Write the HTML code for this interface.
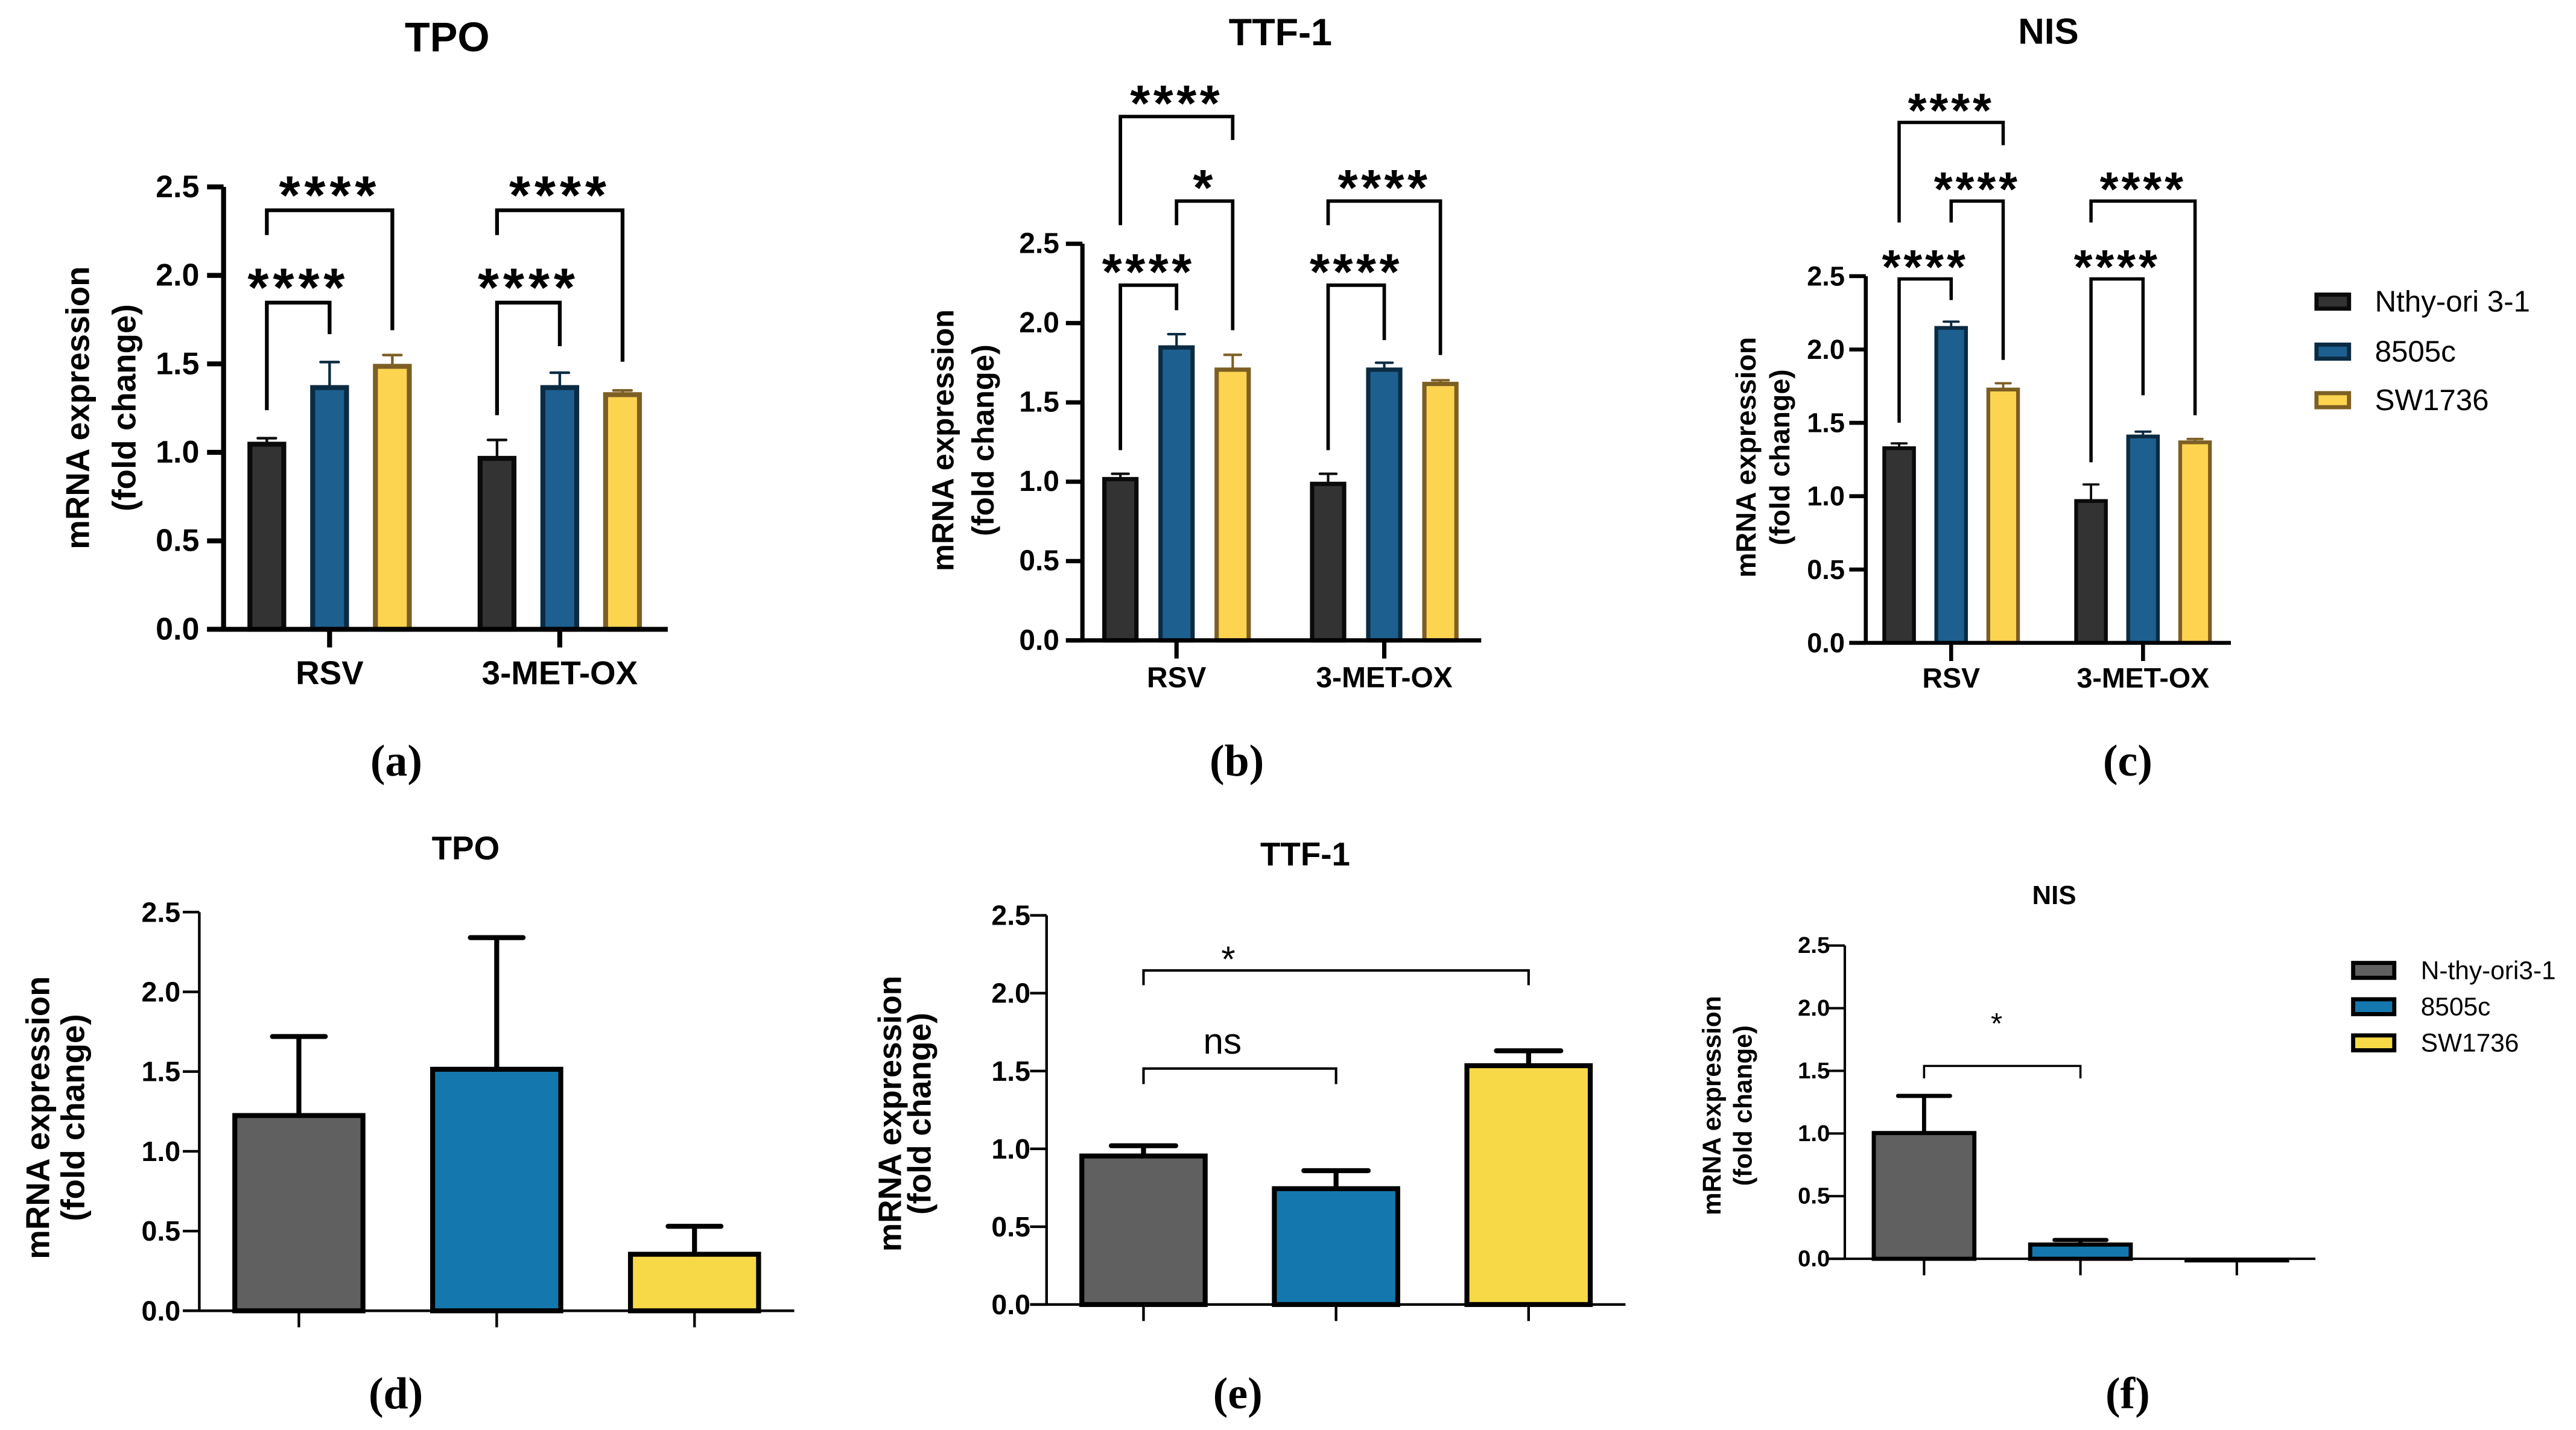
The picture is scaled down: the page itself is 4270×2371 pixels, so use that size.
<!DOCTYPE html>
<html><head><meta charset="utf-8"><style>
html,body{margin:0;padding:0;background:#fff;}
svg{display:block;}
text{font-family:"Liberation Sans",Arial,sans-serif;}
</style></head><body>
<svg id="fig" width="4270" height="2371" viewBox="0 0 1560 866.2" xmlns="http://www.w3.org/2000/svg"></svg>
<script>
// ---------- DATA ----------
const groupCats = ["RSV", "3-MET-OX"];
const seriesNamesTop = ["Nthy-ori 3-1", "8505c", "SW1736"];
const seriesNamesBottom = ["N-thy-ori3-1", "8505c", "SW1736"];
const yTicks = [0, 0.5, 1.0, 1.5, 2.0, 2.5];
const yTickLabels = ["0.0", "0.5", "1.0", "1.5", "2.0", "2.5"];

// (a) TPO
const aNthy = [1.06, 0.98];
const aNthyErr = [0.02, 0.09];
const a8505c = [1.38, 1.38];
const a8505cErr = [0.13, 0.07];
const aSW1736 = [1.50, 1.34];
const aSW1736Err = [0.05, 0.01];
// (b) TTF-1
const bNthy = [1.03, 1.00];
const bNthyErr = [0.02, 0.05];
const b8505c = [1.86, 1.72];
const b8505cErr = [0.07, 0.03];
const bSW1736 = [1.72, 1.63];
const bSW1736Err = [0.08, 0.01];
// (c) NIS
const cNthy = [1.34, 0.98];
const cNthyErr = [0.02, 0.10];
const c8505c = [2.16, 1.42];
const c8505cErr = [0.03, 0.02];
const cSW1736 = [1.74, 1.38];
const cSW1736Err = [0.03, 0.01];
// (d) TPO
const dValues = [1.24, 1.53, 0.37];
const dErrors = [0.48, 0.81, 0.16];
// (e) TTF-1
const eValues = [0.97, 0.76, 1.55];
const eErrors = [0.05, 0.10, 0.08];
// (f) NIS
const fValues = [1.02, 0.13, 0.005];
const fErrors = [0.28, 0.02, 0.0];

// brackets: [group, s1, s2, topValue, leg1Value, leg2Value, label]
const aBrackets = [[0,0,1,1.846,1.238,1.668,"****"],[0,0,2,2.368,2.228,1.69,"****"],[1,0,1,1.846,1.21,1.60,"****"],[1,0,2,2.368,2.228,1.512,"****"]];
const bBrackets = [[0,0,1,2.239,1.199,2.081,"****"],[0,1,2,2.769,2.617,1.955,"*"],[0,0,2,3.302,2.617,3.154,"****"],[1,0,1,2.239,1.199,1.893,"****"],[1,0,2,2.769,2.617,1.799,"****"]];
const cBrackets = [[0,0,1,2.481,1.501,2.337,"****"],[0,1,2,3.012,2.866,1.929,"****"],[0,0,2,3.548,2.866,3.393,"****"],[1,0,1,2.481,1.231,1.688,"****"],[1,0,2,3.012,2.866,1.552,"****"]];
// bottom brackets: [s1, s2, topValue, legValue, label, labelFrac]
const eBrackets = [[0,1,1.516,1.416,"ns",0.41],[0,2,2.146,2.051,"*",0.22]];
const fBrackets = [[0,1,1.539,1.44,"*",0.464]];

// ---------- RENDER ----------
const NS = "http://www.w3.org/2000/svg";
const svg = document.getElementById("fig");
function mk(tag, attrs, parent) {
  const e = document.createElementNS(NS, tag);
  for (const k in attrs) e.setAttribute(k, attrs[k]);
  (parent || svg).appendChild(e);
  return e;
}
function txt(str, attrs, parent) {
  const t = mk("text", attrs, parent);
  t.textContent = str;
  return t;
}
const topFill = ["#333333", "#1d5f8f", "#fdd450"];
const topStroke = ["#0a0a0a", "#0b2b42", "#7d5f24"];
const botFill = ["#606060", "#1478ae", "#f7d947"];

function yS(p, v) { return p.y0 - v * p.k; }

function drawAxes(p, g) {
  const top = yS(p, 2.5);
  const ya = mk("line", {x1:p.ax, y1:top, x2:p.ax, y2:p.y0, stroke:"#000", "stroke-width":p.axisW}, g);
  
  
  const xa = mk("line", {x1:p.ax - 10, y1:p.y0, x2:p.axRight, y2:p.y0, stroke:"#000", "stroke-width":p.axisW}, g);
  
  
  for (let i = 0; i < yTicks.length; i++) {
    const y = yS(p, yTicks[i]);
    const tk = mk("line", {x1:p.ax - 10, y1:y, x2:p.ax, y2:y, stroke:"#000", "stroke-width":p.axisW}, g);
    
    
    const tl = txt(yTickLabels[i], {x:p.ax - p.tickGap, y:y, "text-anchor":"end", "dominant-baseline":"central", "font-size":p.tickFs, "font-weight":"bold"}, g);
    
    
  }
  const t = txt(p.title, {x:p.titleX, y:p.titleY, "text-anchor":"middle", "dominant-baseline":"central", "font-size":p.titleFs, "font-weight":"bold"}, g);
  
  
  const l1 = txt("mRNA expression", {x:0, y:0, "text-anchor":"middle", "dominant-baseline":"central", "font-size":p.ylFs, "font-weight":"bold", transform:"translate(" + p.yl1X + "," + p.ylY + ") rotate(-90)"}, g);
  
  
  const l2 = txt("(fold change)", {x:0, y:0, "text-anchor":"middle", "dominant-baseline":"central", "font-size":p.ylFs, "font-weight":"bold", transform:"translate(" + p.yl2X + "," + p.ylY + ") rotate(-90)"}, g);
  
  
  const pl = txt(p.letter, {x:p.letterX, y:p.letterY, "text-anchor":"middle", "dominant-baseline":"central", "font-size":27, "font-weight":"bold", style:"font-family:'Liberation Serif',serif"}, g);
  
  
}

function drawBar(p, g, cx, w, v, err, fill, stroke, sw, errW, capW) {
  const yT = yS(p, v);
  const r = mk("rect", {x:cx - w/2 + sw/2, y:yT + sw/2, width:Math.max(w - sw, 0.1), height:Math.max(p.y0 - yT - sw/2, 0.1), fill:fill, stroke:stroke, "stroke-width":sw}, g);
  
  
  if (err > 0) {
    const ye = yS(p, v + err);
    const el = mk("path", {d:"M" + cx + "," + (yT + sw/2) + "V" + ye + "M" + (cx - capW/2) + "," + ye + "H" + (cx + capW/2), stroke:stroke, "stroke-width":errW, fill:"none", "stroke-linecap":"round"}, g);
    
    
  }
}

function topPanel(p, series, errs, brackets) {
  const g = mk("g", {});
  
  
  const bx = (gi, s) => p.c0 + gi * p.step + (s - 1) * p.off;
  for (let gi = 0; gi < groupCats.length; gi++) {
    for (let s = 0; s < 3; s++) {
      drawBar(p, g, bx(gi, s), p.bw, series[s][gi], errs[s][gi], topFill[s], topStroke[s], p.sw, p.errW, p.capW);
    }
    const cx = p.c0 + gi * p.step;
    const xt = mk("line", {x1:cx, y1:p.y0, x2:cx, y2:p.y0 + 11, stroke:"#000", "stroke-width":p.axisW}, g);
    
    
    const cl = txt(groupCats[gi], {x:cx, y:p.catY, "text-anchor":"middle", "dominant-baseline":"central", "font-size":p.catFs, "font-weight":"bold"}, g);
    
    
  }
  drawAxes(p, g);
  for (const b of brackets) {
    const x1 = bx(b[0], b[1]), x2 = bx(b[0], b[2]);
    const yt = yS(p, b[3]);
    const br = mk("path", {d:"M" + x1 + "," + yS(p, b[4]) + "V" + yt + "H" + x2 + "V" + yS(p, b[5]), fill:"none", stroke:"#000", "stroke-width":p.brW}, g);
    
    
    const st = txt(b[6], {x:(x1 + x2) / 2, y:yt - p.starOff + 0.58 * p.starFs, "text-anchor":"middle", "font-size":p.starFs, "font-weight":"bold", "letter-spacing":p.starLs}, g);
    
    
  }
  return g;
}

function bottomPanel(p, values, errors, brackets) {
  const g = mk("g", {});
  
  
  const bx = (s) => p.c0 + s * p.step;
  for (let s = 0; s < values.length; s++) {
    drawBar(p, g, bx(s), p.bw, values[s], errors[s], botFill[s], "#000", p.sw, p.errW, p.capW);
    const xt = mk("line", {x1:bx(s), y1:p.y0, x2:bx(s), y2:p.y0 + 10, stroke:"#000", "stroke-width":p.axisW}, g);
    
    
  }
  drawAxes(p, g);
  for (const b of brackets) {
    const x1 = bx(b[0]), x2 = bx(b[1]);
    const yt = yS(p, b[2]), yl = yS(p, b[3]);
    const br = mk("path", {d:"M" + x1 + "," + yl + "V" + yt + "H" + x2 + "V" + yl, fill:"none", stroke:"#000", "stroke-width":p.brW}, g);
    
    
    const lx = x1 + (x2 - x1) * b[5];
    const isStar = b[4] === "*";
    const st = txt(b[4], {x:lx, y:isStar ? yt - p.starOff + 0.58 * p.starFs : yt - p.nsOff, "text-anchor":"middle", "font-size":isStar ? p.starFs : p.nsFs}, g);
    
    
  }
  return g;
}

function legend(x, rows, sw, h, tx, fs, names, fills, strokes, bw, name) {
  const g = mk("g", {});
  
  
  for (let i = 0; i < names.length; i++) {
    const r = mk("rect", {x:x + bw/2, y:rows[i] - h/2 + bw/2, width:sw - bw, height:h - bw, fill:fills[i], stroke:strokes[i], "stroke-width":bw}, g);
    
    
    const t = txt(names[i], {x:tx, y:rows[i], "dominant-baseline":"central", "font-size":fs}, g);
    
    
  }
}

topPanel({y0:381.2, k:107.2, ax:135.4, axRight:404.4, c0:199.6, step:139.4, off:38, bw:23.5, sw:3, errW:1.6, capW:11, axisW:3, tickGap:14.7, tickFs:19, catFs:20, catY:407.6,
  title:"TPO", titleX:270.8, titleY:22.7, titleFs:25, yl1X:47, yl2X:75, ylY:247, ylFs:20, letter:"(a)", letterX:240, letterY:460.6,
  starFs:33, starOff:17, starLs:2.5, brW:2.3},
  [aNthy, a8505c, aSW1736], [aNthyErr, a8505cErr, aSW1736Err], aBrackets);

topPanel({y0:387.9, k:96.1, ax:655.5, axRight:897, c0:712.5, step:125.8, off:34, bw:22, sw:2.6, errW:1.5, capW:10, axisW:2.6, tickGap:14, tickFs:17.5, catFs:17.5, catY:410.6,
  title:"TTF-1", titleX:775.4, titleY:19.7, titleFs:23, yl1X:571, yl2X:595.4, ylY:266.7, ylFs:18.5, letter:"(b)", letterX:749, letterY:460.6,
  starFs:31, starOff:15.5, starLs:2, brW:2.1},
  [bNthy, b8505c, bSW1736], [bNthyErr, b8505cErr, bSW1736Err], bBrackets);

topPanel({y0:389.4, k:88.85, ax:1129.9, axRight:1351, c0:1181.6, step:116.2, off:31.5, bw:20.3, sw:2.3, errW:1.4, capW:9, axisW:2.4, tickGap:12.7, tickFs:16.5, catFs:17, catY:410.6,
  title:"NIS", titleX:1240.5, titleY:18.8, titleFs:22, yl1X:1057.3, yl2X:1077.8, ylY:277, ylFs:17, letter:"(c)", letterX:1288.5, letterY:460.6,
  starFs:29, starOff:14, starLs:1.8, brW:2},
  [cNthy, c8505c, cSW1736], [cNthyErr, c8505cErr, cSW1736Err], cBrackets);

legend(1401.6, [182.7, 213, 242.4], 22.2, 11, 1438.2, 18, seriesNamesTop, topFill, topStroke, 2.5, "legend-top");

bottomPanel({y0:794, k:96.6, ax:120.7, axRight:481, c0:181, step:119.8, bw:80.6, sw:3, errW:3, capW:32, axisW:1.6, tickGap:11.4, tickFs:17,
  title:"TPO", titleX:282, titleY:513.7, titleFs:20, yl1X:22.8, yl2X:44, ylY:677, ylFs:20, letter:"(d)", letterX:239.7, letterY:844, brW:1.5},
  dValues, dErrors, []);

bottomPanel({y0:790.2, k:94.3, ax:633.8, axRight:984.4, c0:692.5, step:116.6, bw:77.7, sw:3, errW:3, capW:39, axisW:1.6, tickGap:9.8, tickFs:17,
  title:"TTF-1", titleX:790.4, titleY:517.4, titleFs:20, yl1X:539.2, yl2X:557.2, ylY:674.6, ylFs:19.5, letter:"(e)", letterX:749.6, letterY:844,
  brW:1.5, starFs:22, starOff:12, nsFs:22, nsOff:9},
  eValues, eErrors, eBrackets);

bottomPanel({y0:762.5, k:75.9, ax:1117.2, axRight:1402.2, c0:1165.2, step:94.7, bw:63.4, sw:2.5, errW:2.5, capW:31.5, axisW:1.5, tickGap:9, tickFs:14,
  title:"NIS", titleX:1244, titleY:542.4, titleFs:16, yl1X:1036.7, yl2X:1055.5, ylY:669.7, ylFs:15.5, letter:"(f)", letterX:1288.5, letterY:844,
  brW:1.3, starFs:18, starOff:30},
  fValues, fErrors, fBrackets);

legend(1423.8, [587.8, 609.8, 631.7], 27.4, 11.5, 1466, 15.5, seriesNamesBottom, botFill, ["#000","#000","#000"], 2.5, "legend-bottom");
</script>
</body></html>
